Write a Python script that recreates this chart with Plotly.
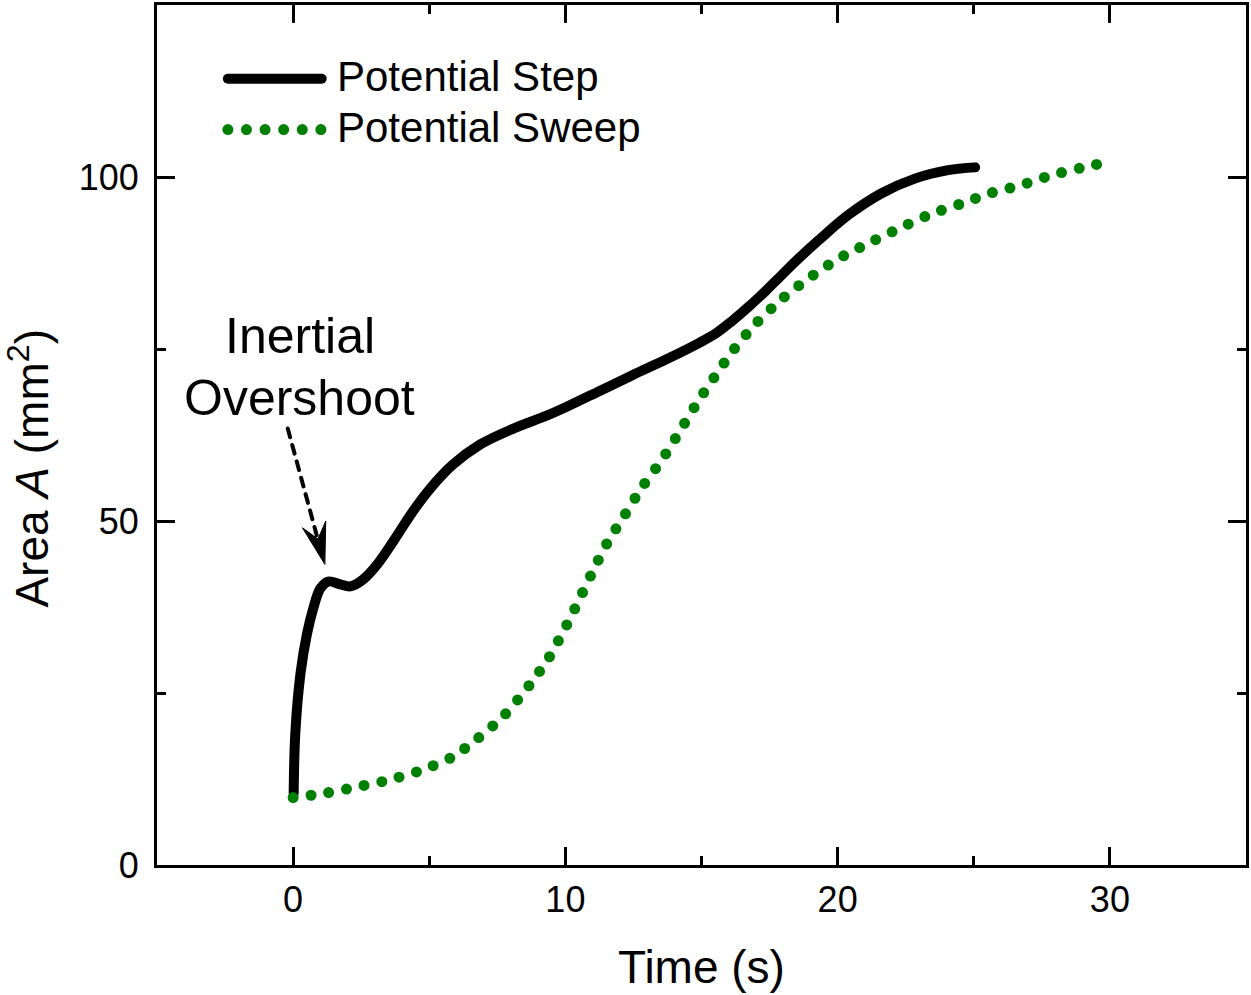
import plotly.graph_objects as go

# ---- data ----
step_t = [0.02, 0.08, 0.27, 0.51, 0.74, 1.0, 1.29, 1.73, 2.1, 2.57, 3.09, 3.67, 4.4, 5.03,
          5.87, 6.86, 8.07, 9.31, 10.05, 11.26, 12.46, 13.71, 14.92, 15.54, 16.13, 16.75,
          17.37, 17.96, 18.58, 19.3, 20.4, 21.6, 22.86, 24.06, 25.05]
step_a = [10.4, 19.1, 27.8, 33.6, 37.3, 40.2, 41.2, 40.8, 40.5, 41.5, 43.7, 47.0, 51.4, 54.7,
          58.2, 61.1, 63.4, 65.3, 66.6, 68.9, 71.2, 73.5, 75.9, 77.3, 79.1, 81.2,
          83.5, 85.8, 88.2, 90.8, 94.5, 97.6, 99.8, 101.0, 101.4]

sweep_t = [0.0, 1.11, 2.28, 3.45, 4.58, 5.8, 6.78, 7.74, 8.69, 9.39, 10.05, 10.34, 10.96,
           11.55, 12.17, 12.83, 13.53, 14.15, 14.81, 15.47, 16.2, 17.0, 17.96, 18.88,
           19.98, 21.04, 22.25, 23.35, 24.52, 25.66, 26.72, 27.89, 28.92, 29.94]
sweep_a = [9.8, 10.4, 11.3, 12.3, 13.6, 15.6, 18.4, 21.7, 26.2, 30.1, 34.9, 37.2, 42.3,
           46.9, 50.8, 55.0, 58.8, 62.7, 67.0, 70.9, 75.0, 78.7, 82.3, 85.1,
           88.0, 90.2, 92.5, 94.5, 96.1, 97.7, 98.8, 100.3, 101.3, 102.2]

series_names = ["Potential Step", "Potential Sweep"]
x_ticks = [0, 10, 20, 30]
y_ticks = [0, 50, 100]

FONT = "Liberation Sans, Arial, sans-serif"
GREEN = "#008000"

W, H = 1251, 995
ML, MR, MT, MB = 157, 3, 2, 130
PW, PH = W - ML - MR, H - MT - MB


def px(xp):
    return (xp - ML) / PW


def py(yp):
    return (H - MB - yp) / PH


fig = go.Figure()
fig.add_trace(go.Scatter(x=step_t, y=step_a, mode="lines", name=series_names[0],
                         line=dict(color="black", width=10, shape="spline", smoothing=1.0),
                         showlegend=False, hoverinfo="skip"))
fig.add_trace(go.Scatter(x=sweep_t, y=sweep_a, mode="lines", name=series_names[1],
                         line=dict(color=GREEN, width=11, dash="0px,18px", shape="spline",
                                   smoothing=0.8),
                         showlegend=False, hoverinfo="skip"))

axis_common = dict(showline=True, linewidth=3, linecolor="black", mirror="ticks",
                   ticks="inside", ticklen=18, tickwidth=3, tickcolor="black",
                   showgrid=False, zeroline=False,
                   tickfont=dict(family=FONT, size=36, color="black"))

fig.update_xaxes(range=[-5, 35], tickvals=x_ticks, ticklabelstandoff=1,
                 minor=dict(ticks="inside", ticklen=9, tickwidth=3, tickcolor="black", dtick=5,
                            tick0=0, showgrid=False),
                 **axis_common)
fig.update_yaxes(range=[0, 125], tickvals=y_ticks, ticklabelstandoff=8,
                 minor=dict(ticks="inside", ticklen=9, tickwidth=3, tickcolor="black", dtick=25,
                            tick0=0, showgrid=False),
                 **axis_common)

shapes = []
# legend samples
shapes.append(dict(type="line", xref="paper", yref="paper", x0=px(228), x1=px(322),
                   y0=py(76), y1=py(76), line=dict(color="black", width=10)))
shapes.append(dict(type="line", xref="paper", yref="paper", x0=px(228), x1=px(322.5),
                   y0=py(127), y1=py(127), line=dict(color=GREEN, width=11, dash="0px,18.6px")))
# dashed arrow
shapes.append(dict(type="line", xref="paper", yref="paper", x0=px(288), y0=py(427),
                   x1=px(317), y1=py(534), line=dict(color="black", width=4, dash="9px,8px")))
tip = (325, 563)
wl = (302.7, 526.6)
wr = (325.9, 520.2)
notch = (318.3, 537.9)
path = "M {},{} L {},{} L {},{} L {},{} Z".format(px(tip[0]), py(tip[1]), px(wl[0]), py(wl[1]),
                                                  px(notch[0]), py(notch[1]), px(wr[0]), py(wr[1]))
shapes.append(dict(type="path", xref="paper", yref="paper", path=path,
                   fillcolor="black", line=dict(color="black", width=1)))

annotations = [
    dict(text=series_names[0], x=px(335), y=py(74), xref="paper", yref="paper",
         xanchor="left", yanchor="middle", showarrow=False,
         font=dict(family=FONT, size=42, color="black")),
    dict(text=series_names[1], x=px(335), y=py(125), xref="paper", yref="paper",
         xanchor="left", yanchor="middle", showarrow=False,
         font=dict(family=FONT, size=42, color="black")),
    dict(text="Inertial", x=px(300), y=py(334), xref="paper", yref="paper",
         xanchor="center", yanchor="middle", showarrow=False,
         font=dict(family=FONT, size=50, color="black")),
    dict(text="Overshoot", x=px(300), y=py(396), xref="paper", yref="paper",
         xanchor="center", yanchor="middle", showarrow=False,
         font=dict(family=FONT, size=50, color="black")),
    dict(text="Time (s)", x=0.5, y=py(967), xref="paper", yref="paper",
         xanchor="center", yanchor="middle", showarrow=False,
         font=dict(family=FONT, size=46, color="black")),
    dict(text="Area <i>A</i> (mm<sup>2</sup>)", x=px(29), y=py(467), xref="paper", yref="paper",
         xanchor="center", yanchor="middle", showarrow=False, textangle=-90,
         font=dict(family=FONT, size=46, color="black")),
]

fig.update_layout(width=W, height=H, margin=dict(l=ML, r=MR, t=MT, b=MB),
                  paper_bgcolor="white", plot_bgcolor="white",
                  shapes=shapes, annotations=annotations, showlegend=False)

post = ("var s=document.createElement('style');"
        "s.textContent='.js-line{stroke-linecap:round;stroke-linejoin:round;}"
        ".shapelayer path{stroke-linecap:round;}';"
        "document.head.appendChild(s);")
fig.write_html("out.html", post_script=post, config={"displayModeBar": False})
